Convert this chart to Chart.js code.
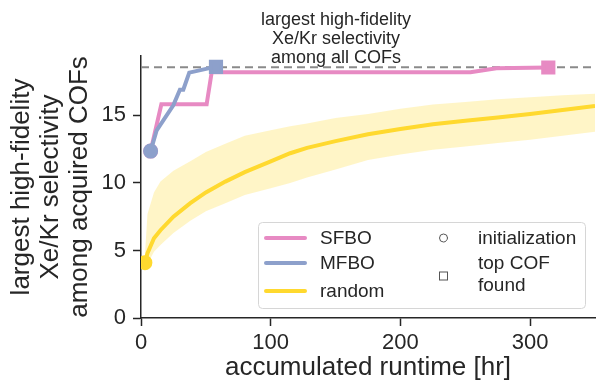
<!DOCTYPE html>
<html>
<head>
<meta charset="utf-8">
<script src="https://cdn.jsdelivr.net/npm/chart.js@4.4.1/dist/chart.umd.min.js"></script>
<style>
  html, body { margin: 0; padding: 0; background: #fff; }
  #wrap { width: 597px; height: 383px; }
</style>
</head>
<body>
<div id="wrap"><canvas id="chart" width="597" height="383"></canvas></div>
<script>
// ---- data ----
const sfboTime = [7.4, 15.7, 50.6, 54.5, 254, 274, 314];
const sfboBest = [12.36, 15.83, 15.83, 18.2, 18.2, 18.5, 18.55];

const mfboTime = [7.4, 12.1, 24.9, 30, 32.6, 37.2, 54.5, 57.8];
const mfboBest = [12.36, 13.9, 15.75, 16.9, 16.9, 18.17, 18.54, 18.6];

const randomTime = [3, 5, 10, 15, 25, 38, 50, 65, 80, 100, 115, 128, 150, 175, 200, 225, 250, 275, 300, 325, 350];
const randomMean = [4.1, 4.8, 5.9, 6.5, 7.5, 8.5, 9.3, 10.1, 10.8, 11.6, 12.2, 12.6, 13.1, 13.6, 14.0, 14.35, 14.6, 14.85, 15.1, 15.4, 15.7];
const randomHi   = [4.6, 7.7, 9.3, 10.1, 10.9, 11.6, 12.3, 12.9, 13.5, 13.9, 14.2, 14.4, 14.8, 15.1, 15.5, 15.8, 16.0, 16.2, 16.35, 16.5, 16.6];
const randomLo   = [3.6, 4.0, 4.9, 5.4, 6.3, 7.2, 7.9, 8.5, 9.1, 9.6, 10.0, 10.4, 11.0, 11.7, 12.1, 12.45, 12.7, 12.95, 13.2, 13.5, 13.8];

const maxSelectivity = 18.57;   // best COF among all
const xRange = [0, 350];
const yRange = [0, 19.4];
const xTicks = [0, 100, 200, 300];
const yTicks = [0, 5, 10, 15];

const seriesNames = ['SFBO', 'MFBO', 'random'];
const markerNames = ['initialization', ['top COF', 'found']];
const noteLines = ['largest high-fidelity', 'Xe/Kr selectivity', 'among all COFs'];

const PINK = '#e78ac3', BLUE = '#8da0cb', YELLOW = '#ffd92f', INK = '#262626';
const FONT = '"Liberation Sans", Arial, Helvetica, sans-serif';

function pts(xs, ys) {
    return xs.map((x, i) => ({x: x, y: ys[i]}));
}

// first point -> circle, last point -> square
function endMarkers(n, square) {
    return {
        pointRadius: ctx => ctx.dataIndex === 0 ? 5.5 : (square && ctx.dataIndex === n - 1 ? 7.2 : 0),
        pointStyle: ctx => ctx.dataIndex === n - 1 && square ? 'rect' : 'circle',
        pointHoverRadius: 0
    };
}

// text placed above the dashed line
const notePlugin = {
    id: 'note',
    afterDraw(chart) {
        const ctx = chart.ctx;
        ctx.save();
        ctx.font = '18px ' + FONT;
        ctx.fillStyle = INK;
        ctx.textAlign = 'center';
        ctx.textBaseline = 'alphabetic';
        noteLines.forEach((t, i) => ctx.fillText(t, 336, 25 + i * 19));
        ctx.restore();
    }
};

// two column legend in the lower right corner
const legendPlugin = {
    id: 'cornerLegend',
    afterDraw(chart) {
        const ctx = chart.ctx;
        const x0 = 258.5, y0 = 222.5, w = 327, h = 86;
        ctx.save();
        ctx.beginPath();
        ctx.roundRect(x0, y0, w, h, 4);
        ctx.fillStyle = 'rgba(255,255,255,0.85)';
        ctx.fill();
        ctx.strokeStyle = '#d6d6d6';
        ctx.lineWidth = 1;
        ctx.stroke();

        ctx.font = '19px ' + FONT;
        ctx.fillStyle = INK;
        ctx.textBaseline = 'middle';
        ctx.textAlign = 'left';

        const colors = [PINK, BLUE, YELLOW];
        const rows = [238, 263, 291];
        seriesNames.forEach((name, i) => {
            ctx.strokeStyle = colors[i];
            ctx.lineWidth = 4;
            ctx.lineCap = 'round';
            ctx.beginPath();
            ctx.moveTo(266, rows[i]);
            ctx.lineTo(305, rows[i]);
            ctx.stroke();
            ctx.fillText(name, 320, rows[i] + 1);
        });

        ctx.strokeStyle = '#555';
        ctx.lineWidth = 1;
        ctx.beginPath();
        ctx.arc(443.5, 238, 4, 0, Math.PI * 2);
        ctx.stroke();
        ctx.strokeRect(439.5, 272, 8, 8);

        ctx.fillText(markerNames[0], 478, 239);
        ctx.fillText(markerNames[1][0], 478, 264);
        ctx.fillText(markerNames[1][1], 478, 286);
        ctx.restore();
    }
};

const axisCommon = {
    type: 'linear',
    grid: {
        drawOnChartArea: false,
        drawTicks: true,
        tickLength: 8,
        tickWidth: 1.5,
        tickColor: INK
    },
    border: { color: INK, width: 1.5 },
    ticks: { color: INK, font: { family: FONT, size: 22 } }
};

function noPadding(s) {
    s.paddingLeft = 0;
    s.paddingRight = 0;
    s.paddingTop = 0;
    s.paddingBottom = 0;
}

const config = {
    type: 'line',
    data: {
        datasets: [
            {   // lower edge of the random band
                data: pts(randomTime, randomLo),
                borderWidth: 0,
                pointRadius: 0,
                fill: false,
                order: 7
            },
            {   // upper edge, filled down to the lower edge
                data: pts(randomTime, randomHi),
                borderWidth: 0,
                pointRadius: 0,
                backgroundColor: 'rgba(255,217,47,0.27)',
                fill: 0,
                order: 6
            },
            Object.assign({
                label: seriesNames[2],
                data: pts(randomTime, randomMean),
                borderColor: YELLOW,
                backgroundColor: YELLOW,
                borderWidth: 4,
                fill: false,
                order: 4
            }, endMarkers(randomTime.length, false)),
            {
                data: pts(xRange, [maxSelectivity, maxSelectivity]),
                borderColor: '#8a8a8a',
                borderWidth: 2,
                borderDash: [8, 5],
                pointRadius: 0,
                fill: false,
                order: 3
            },
            Object.assign({
                label: seriesNames[0],
                data: pts(sfboTime, sfboBest),
                borderColor: PINK,
                backgroundColor: PINK,
                borderWidth: 4,
                fill: false,
                order: 2
            }, endMarkers(sfboTime.length, true)),
            Object.assign({
                label: seriesNames[1],
                data: pts(mfboTime, mfboBest),
                borderColor: BLUE,
                backgroundColor: BLUE,
                borderWidth: 4,
                fill: false,
                order: 1
            }, endMarkers(mfboTime.length, true))
        ]
    },
    options: {
        responsive: false,
        animation: false,
        layout: { autoPadding: false, padding: { top: 56, right: 2, left: 0, bottom: 0 } },
        elements: { line: { tension: 0 } },
        plugins: {
            legend: { display: false },
            tooltip: { enabled: false }
        },
        scales: {
            x: Object.assign({}, axisCommon, {
                min: xRange[0],
                max: xRange[1],
                afterBuildTicks: s => { s.ticks = xTicks.map(v => ({value: v})); },
                afterFit: s => { s.height = 65; noPadding(s); },
                ticks: Object.assign({}, axisCommon.ticks, { padding: 4, maxRotation: 0 }),
                title: {
                    display: true,
                    text: 'accumulated runtime [hr]',
                    color: INK,
                    font: { family: FONT, size: 26 },
                    padding: { top: 0, bottom: 0 }
                }
            }),
            y: Object.assign({}, axisCommon, {
                min: yRange[0],
                max: yRange[1],
                afterBuildTicks: s => { s.ticks = yTicks.map(v => ({value: v})); },
                afterFit: s => { s.width = 141; noPadding(s); },
                ticks: Object.assign({}, axisCommon.ticks, { padding: 7 }),
                title: {
                    display: true,
                    text: ['largest high-fidelity', 'Xe/Kr selectivity', 'among acquired COFs'],
                    color: INK,
                    font: { family: FONT, size: 26, lineHeight: 1.1 },
                    padding: { top: 8, bottom: 0 }
                }
            })
        }
    },
    plugins: [notePlugin, legendPlugin]
};

new Chart(document.getElementById('chart'), config);
</script>
</body>
</html>
